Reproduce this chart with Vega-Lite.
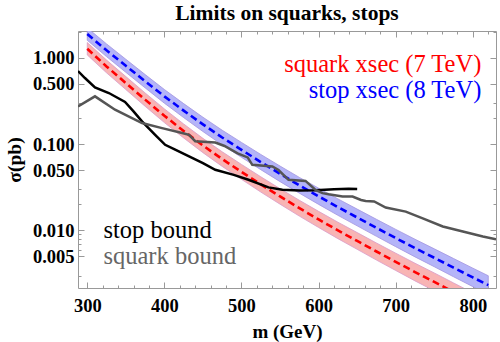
{
  "$schema": "https://vega.github.io/schema/vega-lite/v6.json",
  "width": 418,
  "height": 257,
  "autosize": "none",
  "padding": {"left": 78, "top": 31, "right": 4, "bottom": 54},
  "title": {"text": "Limits on squarks, stops", "font": "Liberation Serif", "fontSize": 21.5, "fontWeight": "bold", "anchor": "middle", "offset": 6, "color": "black"},
  "config": {"view": {"stroke": "#999999", "strokeWidth": 1}, "font": "Liberation Serif"},
  "resolve": {"axis": {"x": "independent", "y": "independent"}},
  "datasets": {
    "stop_xs": [
      {"m": 300, "c": 1.88, "lo": 1.593, "hi": 2.218},
      {"m": 325, "c": 1.22, "lo": 1.03, "hi": 1.446},
      {"m": 350, "c": 0.807, "lo": 0.678, "hi": 0.96},
      {"m": 375, "c": 0.535, "lo": 0.448, "hi": 0.639},
      {"m": 400, "c": 0.357, "lo": 0.2975, "hi": 0.4284},
      {"m": 425, "c": 0.244, "lo": 0.2025, "hi": 0.294},
      {"m": 450, "c": 0.169, "lo": 0.1397, "hi": 0.2045},
      {"m": 475, "c": 0.119, "lo": 0.0979, "hi": 0.1446},
      {"m": 500, "c": 0.0856, "lo": 0.0702, "hi": 0.1044},
      {"m": 525, "c": 0.0619, "lo": 0.0505, "hi": 0.0758},
      {"m": 550, "c": 0.0452, "lo": 0.0367, "hi": 0.0556},
      {"m": 575, "c": 0.0333, "lo": 0.027, "hi": 0.0411},
      {"m": 600, "c": 0.0248, "lo": 0.02, "hi": 0.0308},
      {"m": 625, "c": 0.0186, "lo": 0.01494, "hi": 0.02316},
      {"m": 650, "c": 0.0141, "lo": 0.01128, "hi": 0.01763},
      {"m": 675, "c": 0.0107, "lo": 0.00853, "hi": 0.01343},
      {"m": 700, "c": 0.00815, "lo": 0.00647, "hi": 0.01027},
      {"m": 725, "c": 0.00624, "lo": 0.00493, "hi": 0.00789},
      {"m": 750, "c": 0.00481, "lo": 0.00379, "hi": 0.00611},
      {"m": 775, "c": 0.0037, "lo": 0.0029, "hi": 0.00472},
      {"m": 800, "c": 0.00285, "lo": 0.00223, "hi": 0.00365},
      {"m": 820, "c": 0.00232, "lo": 0.00181, "hi": 0.00298}
    ],
    "squark_xs": [
      {"m": 300, "c": 1.271, "lo": 1.077, "hi": 1.5},
      {"m": 325, "c": 0.793, "lo": 0.669, "hi": 0.94},
      {"m": 350, "c": 0.509, "lo": 0.428, "hi": 0.606},
      {"m": 375, "c": 0.327, "lo": 0.274, "hi": 0.391},
      {"m": 400, "c": 0.2128, "lo": 0.1773, "hi": 0.2554},
      {"m": 425, "c": 0.1418, "lo": 0.1177, "hi": 0.1709},
      {"m": 450, "c": 0.0962, "lo": 0.0795, "hi": 0.1164},
      {"m": 475, "c": 0.0669, "lo": 0.0551, "hi": 0.0813},
      {"m": 500, "c": 0.0476, "lo": 0.039, "hi": 0.0581},
      {"m": 525, "c": 0.0341, "lo": 0.0278, "hi": 0.0418},
      {"m": 550, "c": 0.0247, "lo": 0.0201, "hi": 0.0304},
      {"m": 575, "c": 0.01808, "lo": 0.01464, "hi": 0.02233},
      {"m": 600, "c": 0.01339, "lo": 0.0108, "hi": 0.0166},
      {"m": 625, "c": 0.00999, "lo": 0.00802, "hi": 0.01244},
      {"m": 650, "c": 0.00754, "lo": 0.00603, "hi": 0.00943},
      {"m": 675, "c": 0.00569, "lo": 0.00453, "hi": 0.00714},
      {"m": 700, "c": 0.00432, "lo": 0.00343, "hi": 0.00544},
      {"m": 725, "c": 0.00329, "lo": 0.0026, "hi": 0.00416},
      {"m": 750, "c": 0.00253, "lo": 0.00199, "hi": 0.00321},
      {"m": 775, "c": 0.00193, "lo": 0.00151, "hi": 0.00246},
      {"m": 800, "c": 0.00148, "lo": 0.00116, "hi": 0.00189},
      {"m": 820, "c": 0.0012, "lo": 0.00093, "hi": 0.00154}
    ],
    "stop_bound": [
      {"m": 288, "s": 0.7},
      {"m": 297, "s": 0.582},
      {"m": 310, "s": 0.454},
      {"m": 328, "s": 0.39},
      {"m": 349, "s": 0.307},
      {"m": 360, "s": 0.239},
      {"m": 371, "s": 0.183},
      {"m": 388, "s": 0.128},
      {"m": 401, "s": 0.098},
      {"m": 414, "s": 0.086},
      {"m": 432, "s": 0.072},
      {"m": 450, "s": 0.06},
      {"m": 466, "s": 0.0504},
      {"m": 490, "s": 0.044},
      {"m": 509, "s": 0.0386},
      {"m": 535, "s": 0.0315},
      {"m": 553, "s": 0.0295},
      {"m": 575, "s": 0.029},
      {"m": 596, "s": 0.0291},
      {"m": 620, "s": 0.03},
      {"m": 639, "s": 0.0304},
      {"m": 650, "s": 0.0302}
    ],
    "squark_bound": [
      {"m": 288, "s": 0.273},
      {"m": 310, "s": 0.357},
      {"m": 336, "s": 0.25},
      {"m": 371, "s": 0.175},
      {"m": 397, "s": 0.153},
      {"m": 423, "s": 0.134},
      {"m": 432, "s": 0.128},
      {"m": 440, "s": 0.108},
      {"m": 466, "s": 0.104},
      {"m": 478, "s": 0.095},
      {"m": 495, "s": 0.078},
      {"m": 508, "s": 0.07},
      {"m": 514, "s": 0.0574},
      {"m": 540, "s": 0.055},
      {"m": 548, "s": 0.05},
      {"m": 561, "s": 0.0385},
      {"m": 583, "s": 0.0374},
      {"m": 596, "s": 0.0294},
      {"m": 605, "s": 0.027},
      {"m": 613, "s": 0.0262},
      {"m": 631, "s": 0.0247},
      {"m": 644, "s": 0.0247},
      {"m": 655, "s": 0.0225},
      {"m": 661, "s": 0.0219},
      {"m": 672, "s": 0.0216},
      {"m": 687, "s": 0.0184},
      {"m": 713, "s": 0.0165},
      {"m": 735, "s": 0.0138},
      {"m": 761, "s": 0.0111},
      {"m": 787, "s": 0.0097},
      {"m": 813, "s": 0.0085},
      {"m": 830, "s": 0.0079}
    ],
    "labels": [
      {"side": "right", "series": "squark xsec", "label": "squark xsec (7 TeV)", "m": 811, "s": 0.688},
      {"side": "right", "series": "stop xsec", "label": "stop xsec (8 TeV)", "m": 811, "s": 0.338},
      {"side": "left", "series": "stop bound", "label": "stop bound", "m": 321, "s": 0.00816},
      {"side": "left", "series": "squark bound", "label": "squark bound", "m": 321, "s": 0.00407}
    ]
  },
  "layer": [
    {
      "data": {"name": "squark_xs"},
      "mark": {"type": "area", "fill": "#f8b4b4", "stroke": "#d99ac8", "strokeWidth": 0.8, "clip": true},
      "encoding": {
        "x": {"field": "m", "type": "quantitative", "scale": {"domain": [288, 830], "nice": false, "zero": false},
          "axis": {"orient": "bottom", "values": [300,320,340,360,380,400,420,440,460,480,500,520,540,560,580,600,620,640,660,680,700,720,740,760,780,800,820],
            "labelExpr": "datum.value % 100 === 0 ? datum.label : ''",
            "tickSize": {"condition": {"test": "datum.value % 100 === 0", "value": -6}, "value": -3},
            "tickColor": "#999999", "domain": false, "grid": false,
            "labelFont": "Liberation Serif", "labelFontSize": 18.5, "labelFontWeight": "bold", "labelColor": "black", "labelPadding": 14,
            "title": "m (GeV)", "titleFont": "Liberation Serif", "titleFontSize": 19, "titleFontWeight": "bold", "titleColor": "black", "titlePadding": 8}},
        "y": {"field": "hi", "type": "quantitative", "scale": {"type": "log", "domain": [0.00215, 2.04], "nice": false},
          "axis": {"orient": "left", "values": [0.003,0.005,0.006,0.007,0.008,0.009,0.01,0.02,0.03,0.05,0.1,0.2,0.3,0.5,1,2],
            "labelExpr": "indexof([0.005,0.01,0.05,0.1,0.5,1], datum.value) >= 0 ? format(datum.value, '.3f') : ''",
            "tickSize": {"condition": {"test": "indexof([0.005,0.01,0.05,0.1,0.5,1], datum.value) >= 0", "value": -6}, "value": -3},
            "tickColor": "#999999", "domain": false, "grid": false,
            "labelFont": "Liberation Serif", "labelFontSize": 18.5, "labelFontWeight": "bold", "labelColor": "black", "labelPadding": 10,
            "title": "σ(pb)", "titleFont": "Liberation Serif", "titleFontSize": 19.5, "titleFontWeight": "bold", "titleColor": "black", "titlePadding": 8}},
        "y2": {"field": "lo"}
      }
    },
    {
      "data": {"name": "stop_xs"},
      "mark": {"type": "area", "fill": "#b4b4f8", "stroke": "#a294e0", "strokeWidth": 0.8, "clip": true},
      "encoding": {
        "x": {"field": "m", "type": "quantitative", "axis": null},
        "y": {"field": "hi", "type": "quantitative", "axis": null},
        "y2": {"field": "lo"}
      }
    },
    {
      "data": {"name": "squark_xs"},
      "mark": {"type": "line", "color": "#ff0000", "strokeWidth": 2.6, "strokeDash": [7, 4], "clip": true},
      "encoding": {
        "x": {"field": "m", "type": "quantitative", "axis": null},
        "y": {"field": "c", "type": "quantitative", "axis": null}
      }
    },
    {
      "data": {"name": "stop_xs"},
      "mark": {"type": "line", "color": "#0000ff", "strokeWidth": 2.6, "strokeDash": [7, 4], "clip": true},
      "encoding": {
        "x": {"field": "m", "type": "quantitative", "axis": null},
        "y": {"field": "c", "type": "quantitative", "axis": null}
      }
    },
    {
      "data": {"name": "stop_bound"},
      "mark": {"type": "line", "color": "#000000", "strokeWidth": 2.5, "clip": true},
      "encoding": {
        "x": {"field": "m", "type": "quantitative", "axis": null},
        "y": {"field": "s", "type": "quantitative", "axis": null}
      }
    },
    {
      "data": {"name": "squark_bound"},
      "mark": {"type": "line", "color": "#555555", "strokeWidth": 2.5, "clip": true},
      "encoding": {
        "x": {"field": "m", "type": "quantitative", "axis": null},
        "y": {"field": "s", "type": "quantitative", "axis": null}
      }
    },
    {
      "data": {"name": "labels"},
      "transform": [{"filter": "datum.side === 'right'"}],
      "mark": {"type": "text", "align": "right", "baseline": "alphabetic", "font": "Liberation Serif", "fontSize": 24.5},
      "encoding": {
        "x": {"field": "m", "type": "quantitative", "axis": null},
        "y": {"field": "s", "type": "quantitative", "axis": null},
        "text": {"field": "label"},
        "color": {"field": "series", "type": "nominal", "legend": null,
          "scale": {"domain": ["squark xsec", "stop xsec", "stop bound", "squark bound"], "range": ["#ff0000", "#0000ff", "#000000", "#666666"]}}
      }
    },
    {
      "data": {"name": "labels"},
      "transform": [{"filter": "datum.side === 'left'"}],
      "mark": {"type": "text", "align": "left", "baseline": "alphabetic", "font": "Liberation Serif", "fontSize": 24.5},
      "encoding": {
        "x": {"field": "m", "type": "quantitative", "axis": null},
        "y": {"field": "s", "type": "quantitative", "axis": null},
        "text": {"field": "label"},
        "color": {"field": "series", "type": "nominal", "legend": null}
      }
    },
    {
      "data": {"name": "stop_xs"},
      "mark": {"type": "point", "opacity": 0},
      "encoding": {
        "x": {"field": "m", "type": "quantitative",
          "axis": {"orient": "top", "values": [300,320,340,360,380,400,420,440,460,480,500,520,540,560,580,600,620,640,660,680,700,720,740,760,780,800,820],
            "labels": false, "title": null, "domain": false, "grid": false, "tickColor": "#999999",
            "tickSize": {"condition": {"test": "datum.value % 100 === 0", "value": -6}, "value": -3}}},
        "y": {"field": "c", "type": "quantitative",
          "axis": {"orient": "right", "values": [0.003,0.005,0.006,0.007,0.008,0.009,0.01,0.02,0.03,0.05,0.1,0.2,0.3,0.5,1,2],
            "labels": false, "title": null, "domain": false, "grid": false, "tickColor": "#999999",
            "tickSize": {"condition": {"test": "indexof([0.005,0.01,0.05,0.1,0.5,1], datum.value) >= 0", "value": -6}, "value": -3}}}
      }
    }
  ]
}
